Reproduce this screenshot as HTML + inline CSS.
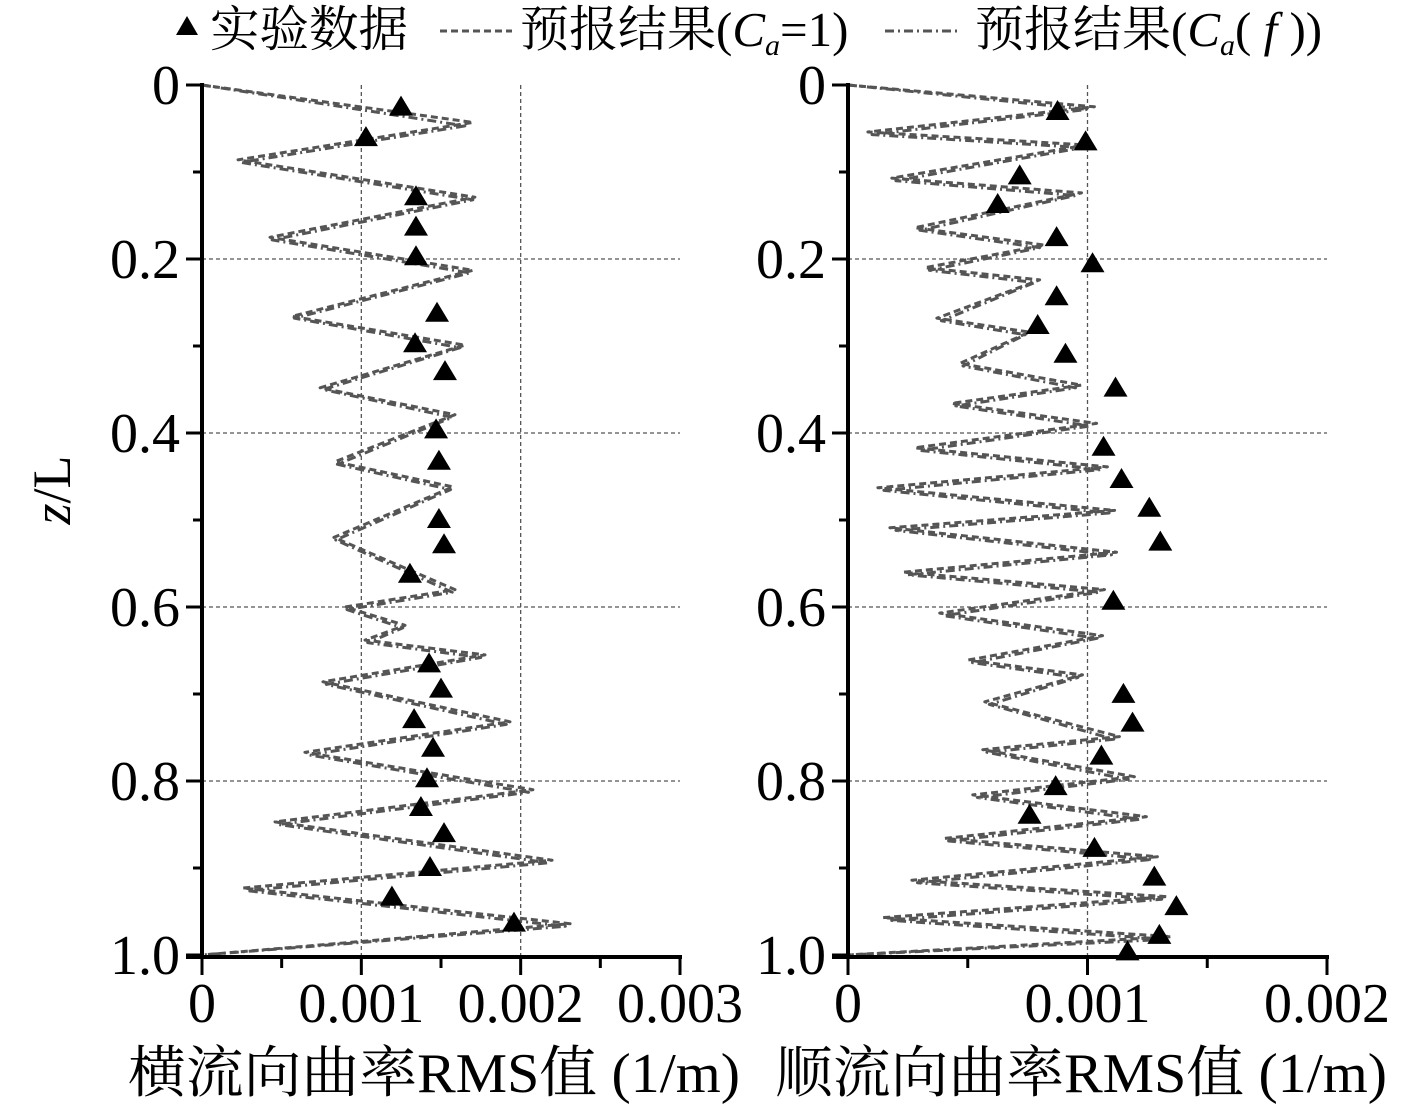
<!DOCTYPE html>
<html><head><meta charset="utf-8">
<style>
html,body{margin:0;padding:0;background:#fff;}
svg{display:block;}
text{font-family:"Liberation Serif","Noto Serif CJK SC","Noto Sans CJK SC",serif;fill:#000;}
</style></head>
<body>
<svg id="chart" width="1417" height="1111" viewBox="0 0 1417 1111" xmlns="http://www.w3.org/2000/svg">
  <g id="legend">
    <polygon points="187,16 176,35 198,35" fill="#000"/>
    <text x="210" y="46" font-size="49" textLength="198" lengthAdjust="spacingAndGlyphs">实验数据</text>
    <line x1="440" y1="31" x2="512" y2="31" stroke="#555" stroke-width="3" stroke-dasharray="7,4"/>
    <text x="520" y="46" font-size="49">预报结果(<tspan font-style="italic">C</tspan><tspan font-style="italic" font-size="30" dy="9">a</tspan><tspan dy="-9">=1)</tspan></text>
    <line x1="885" y1="31" x2="957" y2="31" stroke="#555" stroke-width="3" stroke-dasharray="9,4,2,4"/>
    <text x="975" y="46" font-size="49">预报结果(<tspan font-style="italic">C</tspan><tspan font-style="italic" font-size="30" dy="9">a</tspan><tspan dy="-9">(</tspan><tspan font-style="italic"> f </tspan>))</text>
  </g>
  <text transform="translate(70,490) rotate(-90)" text-anchor="middle" font-size="54"><tspan font-style="italic">z</tspan>/L</text>
  <g id="left"></g>
  <g id="right"></g>
  <text x="128" y="1092" font-size="56" textLength="612" lengthAdjust="spacingAndGlyphs">横流向曲率RMS值 (1/m)</text>
  <text x="775" y="1092" font-size="56" textLength="612" lengthAdjust="spacingAndGlyphs">顺流向曲率RMS值 (1/m)</text>
</svg>
<script>
// ---- data (x in 1/m, y = z/L) ----
const leftExpX = [0.001249,0.001029,0.001343,0.001343,0.001343,0.001475,0.001337,0.001525,0.001469,0.001487,0.001487,0.001519,0.001305,0.001425,0.0015,0.001331,0.00145,0.001412,0.001374,0.001519,0.001431,0.001192,0.001958];
const leftExpY = [0.026,0.061,0.129,0.164,0.198,0.263,0.298,0.330,0.397,0.433,0.500,0.529,0.563,0.666,0.695,0.730,0.763,0.798,0.831,0.861,0.900,0.934,0.964];
const leftCa1X = [0,0.00170,0.000226,0.001713,0.000427,0.00170,0.000565,0.00165,0.000741,0.001588,0.000835,0.001575,0.000828,0.001588,0.000898,0.001274,0.001023,0.001776,0.000759,0.001933,0.000646,0.002077,0.000458,0.002197,0.000257,0.00231,0];
const leftCa1Y = [0,0.043,0.086,0.129,0.175,0.213,0.266,0.299,0.348,0.379,0.433,0.462,0.520,0.580,0.600,0.621,0.638,0.655,0.686,0.732,0.767,0.810,0.847,0.891,0.923,0.964,1.0];
const leftCafX = [0,0.00165,0.000245,0.00170,0.000440,0.00168,0.000580,0.00162,0.000760,0.00157,0.000850,0.00156,0.000840,0.00157,0.000910,0.00126,0.00104,0.00175,0.000780,0.00191,0.000670,0.00205,0.000480,0.00217,0.000280,0.00228,0];
const leftCafY = [0,0.047,0.089,0.132,0.178,0.216,0.268,0.302,0.350,0.382,0.436,0.465,0.523,0.583,0.603,0.624,0.641,0.658,0.689,0.735,0.770,0.813,0.850,0.894,0.926,0.967,1.0];
const rightExpX = [0.000875,0.000992,0.000717,0.000625,0.000871,0.001021,0.000871,0.000792,0.000908,0.001117,0.001067,0.001142,0.001258,0.001304,0.001108,0.00115,0.001188,0.001058,0.000867,0.000758,0.001029,0.001279,0.001371,0.0013,0.001167];
const rightExpY = [0.031,0.066,0.105,0.138,0.176,0.206,0.244,0.277,0.310,0.349,0.417,0.454,0.487,0.526,0.594,0.701,0.734,0.772,0.807,0.840,0.878,0.911,0.945,0.978,0.997];
const rightCa1X = [0,0.001029,0.000083,0.000996,0.000183,0.000975,0.000279,0.000821,0.000321,0.0008,0.000371,0.000758,0.000467,0.000975,0.000433,0.001038,0.000279,0.001083,0.000125,0.001113,0.000175,0.001121,0.000229,0.001071,0.000383,0.001063,0.0005,0.000979,0.000571,0.001133,0.000563,0.001196,0.000521,0.001246,0.000404,0.001292,0.000267,0.001333,0.000146,0.00135,0];
const rightCa1Y = [0,0.025,0.054,0.069,0.107,0.124,0.164,0.184,0.210,0.224,0.268,0.284,0.320,0.345,0.366,0.389,0.417,0.439,0.463,0.489,0.509,0.537,0.560,0.580,0.607,0.633,0.661,0.678,0.709,0.749,0.764,0.795,0.816,0.841,0.866,0.887,0.914,0.933,0.957,0.979,1.0];
const rightCafX = [0,0.00100,0.000100,0.000980,0.000200,0.000950,0.000300,0.000800,0.000340,0.00078,0.000390,0.000740,0.000480,0.000950,0.000450,0.00101,0.000300,0.00106,0.000150,0.00109,0.000200,0.00110,0.000250,0.00105,0.000400,0.00104,0.00052,0.00096,0.00059,0.00111,0.00058,0.00117,0.00054,0.00122,0.00042,0.00127,0.00029,0.00131,0.00017,0.00133,0];
const rightCafY = [0,0.028,0.057,0.072,0.110,0.127,0.167,0.187,0.213,0.227,0.271,0.287,0.323,0.348,0.369,0.392,0.420,0.442,0.466,0.492,0.512,0.540,0.563,0.583,0.610,0.636,0.664,0.681,0.712,0.752,0.767,0.798,0.819,0.844,0.869,0.890,0.917,0.936,0.960,0.982,1.0];
const leftXTicks = ["0","0.001","0.002","0.003"];
const leftXTickVals = [0,0.001,0.002,0.003];
const rightXTicks = ["0","0.001","0.002"];
const rightXTickVals = [0,0.001,0.002];
const yTicks = ["0","0.2","0.4","0.6","0.8","1.0"];
const yTickVals = [0,0.2,0.4,0.6,0.8,1.0];

const NS="http://www.w3.org/2000/svg";
function mk(tag,attrs,parent){const e=document.createElementNS(NS,tag);for(const k in attrs)e.setAttribute(k,attrs[k]);parent.appendChild(e);return e;}
const Y0=85,Y1=955;
function yS(v){return Y0+v*(Y1-Y0);}

function panel(gid,x0,x1,xmax,tickLabels,tickVals,expX,expY,c1X,c1Y,cfX,cfY){
  const g=document.getElementById(gid);
  const xS=v=>x0+v/xmax*(x1-x0);
  tickVals.forEach(v=>{if(v>0&&v<xmax){
    const l=mk('line',{x1:xS(v),y1:Y0,x2:xS(v),y2:Y1,stroke:'#555','stroke-width':1.3,'stroke-dasharray':'4,3'},g);
    
    
  }});
  yTickVals.forEach(v=>{if(v>0&&v<1){
    const l=mk('line',{x1:x0,y1:yS(v),x2:x1,y2:yS(v),stroke:'#555','stroke-width':1.3,'stroke-dasharray':'4,3'},g);
    
    
  }});
  function series(xs,ys,dash,name){
    const pts=xs.map((v,i)=>xS(v).toFixed(1)+','+yS(ys[i]).toFixed(1)).join(' ');
    const p=mk('polyline',{points:pts,fill:'none',stroke:'#555','stroke-width':3,'stroke-dasharray':dash,'stroke-linejoin':'round'},g);
    
    
  }
  series(c1X,c1Y,'7,4',gid+'-series-ca1');
  series(cfX,cfY,'9,4,2,4',gid+'-series-caf');
  expX.forEach((v,i)=>{
    const cx=xS(v),cy=yS(expY[i]);
    const t=mk('polygon',{points:`${cx},${cy-12} ${cx-12},${cy+8} ${cx+12},${cy+8}`,fill:'#000'},g);
    
    
  });
  const ya=mk('line',{x1:x0,y1:Y0-2,x2:x0,y2:Y1+2,stroke:'#000','stroke-width':4},g);
  
  
  const xa=mk('line',{x1:x0-16,y1:Y1+2,x2:x1+2,y2:Y1+2,stroke:'#000','stroke-width':4},g);
  
  
  for(let k=0;k<=10;k++){const v=k/10;const len=(k%2==0)?16:9;
    mk('line',{x1:x0-len,y1:yS(v),x2:x0,y2:yS(v),stroke:'#000','stroke-width':3},g);}
  yTickVals.forEach((v,i)=>{
    const t=mk('text',{x:x0-22,y:yS(v)+19,'text-anchor':'end','font-size':56},g);
    t.textContent=yTicks[i];
    
    
  });
  const step=tickVals[1]/2;
  for(let v=0;v<=xmax+1e-9;v+=step){const major=Math.abs(v/tickVals[1]-Math.round(v/tickVals[1]))<1e-6;
    mk('line',{x1:xS(v),y1:Y1+2,x2:xS(v),y2:Y1+(major?20:13),stroke:'#000','stroke-width':3},g);}
  tickVals.forEach((v,i)=>{
    const t=mk('text',{x:xS(v),y:1022,'text-anchor':'middle','font-size':56},g);
    t.textContent=tickLabels[i];
    
    
  });
}
panel('left',202,680,0.003,leftXTicks,leftXTickVals,leftExpX,leftExpY,leftCa1X,leftCa1Y,leftCafX,leftCafY);
panel('right',848,1327,0.002,rightXTicks,rightXTickVals,rightExpX,rightExpY,rightCa1X,rightCa1Y,rightCafX,rightCafY);
</script>
</body></html>
